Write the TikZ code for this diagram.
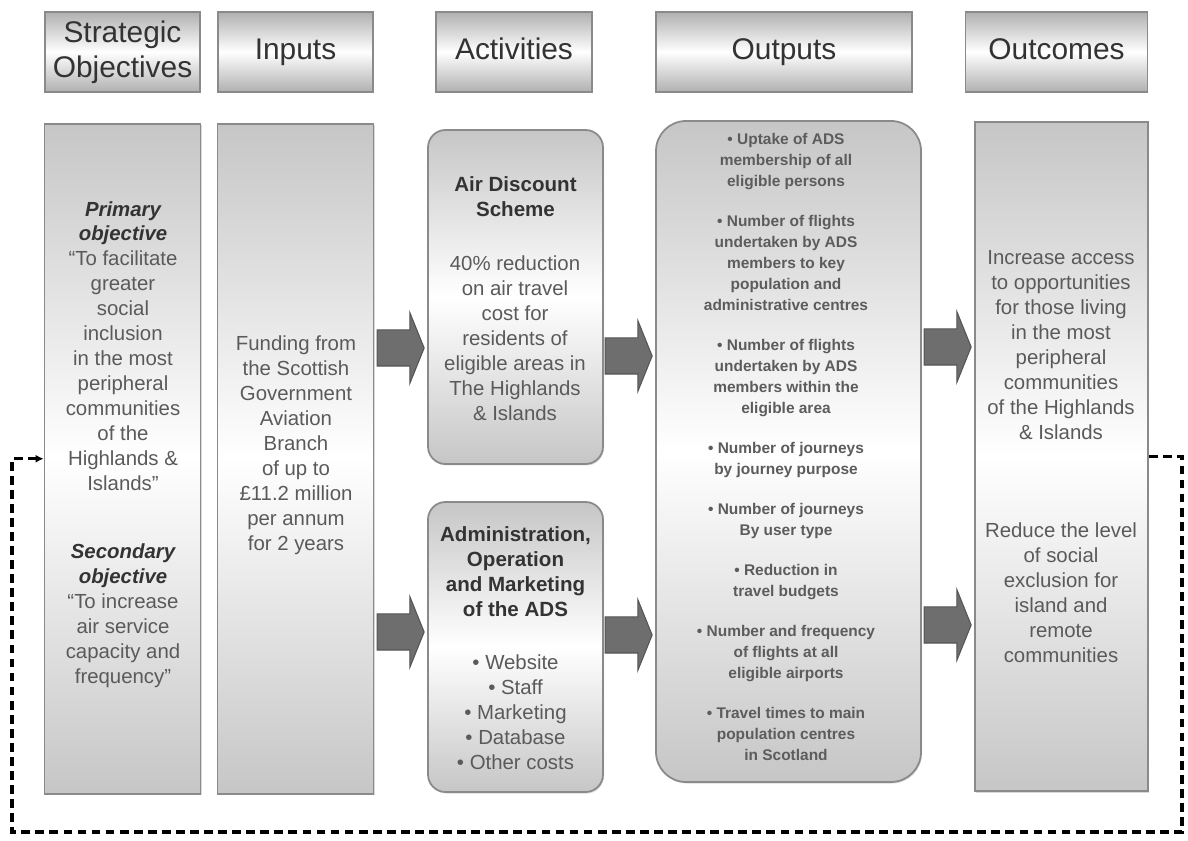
\documentclass[tikz,border=0pt]{standalone}
\usepackage{fontspec}
\setmainfont{Liberation Sans}
\usepackage{tikz}
\usetikzlibrary{arrows.meta,positioning,shapes.arrows,shadows}
\definecolor{ink}{HTML}{333333}
\definecolor{txtgray}{HTML}{5A5A5A}
\definecolor{edge}{HTML}{8A8A8A}
\definecolor{shadegray}{HTML}{C6C6C6}
\definecolor{headgray}{HTML}{B0B0B0}
\definecolor{arrowfill}{HTML}{6E6E6E}
\definecolor{arrowedge}{HTML}{555555}
\newcommand{\bi}[1]{\textbf{\textit{#1}}}
\tikzset{
  headbox/.style={
    rectangle, draw=edge, line width=1pt,
    top color=headgray, bottom color=headgray, middle color=white,
    minimum width=#1, minimum height=1.6cm,
    font=\fontsize{17}{20}\selectfont, text=ink, align=center,
    inner sep=0pt
  },
  headbox/.default=3.1cm,
  oneline/.style={text height=12.5pt, text depth=3.5pt},
  colbox/.style={
    rectangle, draw=edge, line width=1pt,
    top color=shadegray, bottom color=shadegray, middle color=white,
    minimum width=#1, minimum height=13.4cm,
    drop shadow={shadow xshift=0.02cm, shadow yshift=-0.03cm, opacity=0.3}
  },
  colbox/.default=3.12cm,
  roundbox/.style={
    rectangle, rounded corners=#1, draw=edge, line width=1pt,
    top color=shadegray, bottom color=shadegray, middle color=white,
    drop shadow={shadow xshift=0.02cm, shadow yshift=-0.03cm, opacity=0.3}
  },
  roundbox/.default=0.35cm,
  bodytext/.style={
    font=\fontsize{11.6}{14.2}\selectfont, text=txtgray, align=center,
    inner sep=0pt
  },
  titletext/.style={
    font=\fontsize{11.7}{14.2}\selectfont\bfseries, text=ink, align=center,
    inner sep=0pt
  },
  outtext/.style={
    font=\fontsize{8.8}{11.95}\selectfont\bfseries, text=ink!80, align=center,
    inner sep=0pt
  },
  blockarrow/.style={
    single arrow, draw=arrowedge, fill=arrowfill, line width=0.6pt,
    text height=0pt, text depth=0pt, inner xsep=0pt, inner ysep=0.35cm,
    single arrow head extend=0.35cm, single arrow tip angle=136,
    minimum height=0.94cm
  },
  fbloop/.style={
    line width=1.8pt, dash pattern=on 5pt off 3pt,
    -{Latex[length=4.5pt,width=4.5pt]}
  },
}

\begin{document}
\begin{tikzpicture}
\useasboundingbox (0,0) rectangle (23.76,16.8);

% column headers
\node[headbox] (hObj) at (2.45,15.76) {Strategic\\Objectives};
\node[headbox, oneline] (hIn) at (5.91,15.76) {Inputs};
\node[headbox=3.12cm, oneline] (hAct) at (10.28,15.76) {Activities};
\node[headbox=5.12cm, oneline] (hOut) at (15.68,15.76) {Outputs};
\node[headbox=3.64cm, oneline] (hOutc) at (21.13,15.76) {Outcomes};

% boxes
\node[colbox, below=0.6cm of hObj.south, anchor=north] (obj) {};
\node[colbox, below=0.6cm of hIn.south, anchor=north] (inp) {};
\node[roundbox, minimum width=3.5cm, minimum height=6.68cm] (act1) at (10.31,10.86) {};
\node[roundbox, minimum width=3.5cm, minimum height=5.8cm] (act2) at (10.31,3.86) {};
\node[roundbox=0.6cm, minimum width=5.3cm, minimum height=13.22cm] (outp) at (15.77,7.77) {};
\node[colbox=3.46cm, minimum height=13.38cm] (outc) at (21.23,7.67) {};

% texts
\node[bodytext] (prim) at (2.46,9.88) {\bi{\color{ink}Primary}\\\bi{\color{ink}objective}\\``To facilitate\\greater\\social\\inclusion\\in the most\\peripheral\\communities\\of the\\Highlands \&\\Islands''};
\node[bodytext] (sec) at (2.46,4.48) {\bi{\color{ink}Secondary}\\\bi{\color{ink}objective}\\``To increase\\air service\\capacity and\\frequency''};
\node[bodytext] (fund) at (5.92,7.9) {Funding from\\the Scottish\\Government\\Aviation\\Branch\\of up to\\£11.2 million\\per annum\\for 2 years};
\node[titletext] (adsT) at (10.31,12.86) {Air Discount\\Scheme};
\node[bodytext] (adsB) at (10.3,10.03) {40\% reduction\\on air travel\\cost for\\residents of\\eligible areas in\\The Highlands\\\& Islands};
\node[titletext] (admT) at (10.31,5.36) {Administration,\\Operation\\and Marketing\\of the ADS};
\node[bodytext] (admB) at (10.31,2.55) {\textbullet\ Website\\\textbullet\ Staff\\\textbullet\ Marketing\\\textbullet\ Database\\\textbullet\ Other costs};
\node[outtext] (outT) at (15.72,7.87) {\textbullet\ Uptake of ADS\\membership of all\\eligible persons\\[0.38cm]
  \textbullet\ Number of flights\\undertaken by ADS\\members to key\\population and\\administrative centres\\[0.38cm]
  \textbullet\ Number of flights\\undertaken by ADS\\members within the\\eligible area\\[0.38cm]
  \textbullet\ Number of journeys\\by journey purpose\\[0.38cm]
  \textbullet\ Number of journeys\\By user type\\[0.38cm]
  \textbullet\ Reduction in\\travel budgets\\[0.38cm]
  \textbullet\ Number and frequency\\of flights at all\\eligible airports\\[0.38cm]
  \textbullet\ Travel times to main\\population centres\\in Scotland};
\node[bodytext] (oc1) at (21.22,9.9) {Increase access\\to opportunities\\for those living\\in the most\\peripheral\\communities\\of the Highlands\\\& Islands};
\node[bodytext] (oc2) at (21.22,4.95) {Reduce the level\\of social\\exclusion for\\island and\\remote\\communities};

% block arrows
\node[blockarrow] (a1) at (7.94,9.84) {};
\node[blockarrow] (a2) at (7.94,4.16) {};
\node[blockarrow] (a3) at (12.5,9.68) {};
\node[blockarrow] (a4) at (12.5,4.1) {};
\node[blockarrow] (a5) at (18.88,9.86) {};
\node[blockarrow] (a6) at (18.88,4.3) {};

% feedback loop
\coordinate (lpR) at (23.64,0.16);
\coordinate (lpL) at (0.24,0.16);
\draw[fbloop] (outc.east) -| (lpR) -- (lpL) |- (obj.west);
\end{tikzpicture}
\end{document}
